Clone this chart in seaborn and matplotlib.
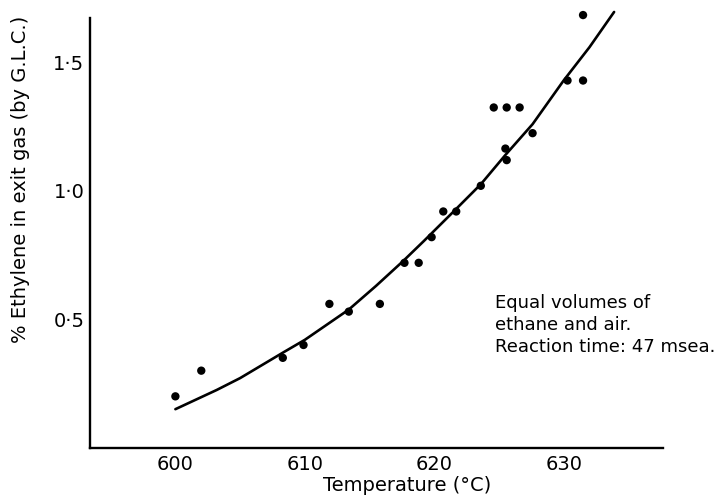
import matplotlib
matplotlib.use("Agg")
import matplotlib.pyplot as plt
import seaborn as sns
import pandas as pd

# measured points (temperature in deg C, % ethylene)
temp = [600.0, 602.0, 608.3, 609.9, 611.9, 613.4, 615.8, 617.7, 618.8, 619.8,
        620.7, 621.7, 623.6, 625.5, 625.6, 627.6, 624.6, 625.6, 626.6, 630.3,
        631.5, 631.5]
ethylene = [0.20, 0.30, 0.35, 0.40, 0.56, 0.53, 0.56, 0.72, 0.72, 0.82,
            0.92, 0.92, 1.02, 1.165, 1.12, 1.225, 1.325, 1.325, 1.325, 1.43,
            1.43, 1.685]

# drawn curve
curve_temp = [600.0, 603.2, 605.0, 608.3, 610.0, 613.4, 615.5, 617.6, 619.2,
              621.5, 623.6, 625.5, 627.6, 630.0, 632.0, 633.9]
curve_eth = [0.150, 0.225, 0.271, 0.370, 0.420, 0.538, 0.630, 0.727, 0.805,
             0.920, 1.026, 1.140, 1.260, 1.430, 1.560, 1.697]

xticks = [600, 610, 620, 630]
yticks = [0.5, 1.0, 1.5]
ytick_labels = ["0·5", "1·0", "1·5"]

note = "Equal volumes of\nethane and air.\nReaction time: 47 msea."

sns.set_theme(style="white")
plt.rcParams["font.family"] = ["DejaVu Sans"]
plt.rcParams["text.color"] = "black"
plt.rcParams["axes.labelcolor"] = "black"

fig = plt.figure(figsize=(7.28, 4.97), dpi=100)
ax = fig.add_axes([0.1236, 0.0992, 0.7875, 0.8638])

pts = pd.DataFrame({"temp": temp, "eth": ethylene})
fit = pd.DataFrame({"temp": curve_temp, "eth": curve_eth})

sns.lineplot(data=fit, x="temp", y="eth", color="black", linewidth=1.9,
             sort=False, ax=ax, clip_on=False)
sns.scatterplot(data=pts, x="temp", y="eth", color="black", s=36,
                edgecolor="none", ax=ax, clip_on=False, zorder=3)

ax.set_xlim(593.4, 637.7)
ax.set_ylim(0, 1.672)
sns.despine(ax=ax)
for sp in ["left", "bottom"]:
    ax.spines[sp].set_linewidth(1.7)
    ax.spines[sp].set_color("black")

ax.set_xticks(xticks)
ax.set_yticks(yticks)
ax.set_yticklabels(ytick_labels)
ax.tick_params(direction="in", length=8.5, width=1.5, colors="black",
               labelsize=14)
ax.tick_params(axis="x", pad=5)
ax.tick_params(axis="y", pad=4)

ax.set_xlabel("Temperature (°C)", fontsize=14, color="black")
ax.set_ylabel("% Ethylene in exit gas (by G.L.C.)", fontsize=14, color="black")
ax.xaxis.set_label_coords(0.553, -0.066)
ax.yaxis.set_label_coords(-0.104, 0.626)

ax.text(624.66, 0.60, note, ha="left", va="top", fontsize=13,
        linespacing=1.3, color="black")

fig.savefig("out.png", dpi=100)
